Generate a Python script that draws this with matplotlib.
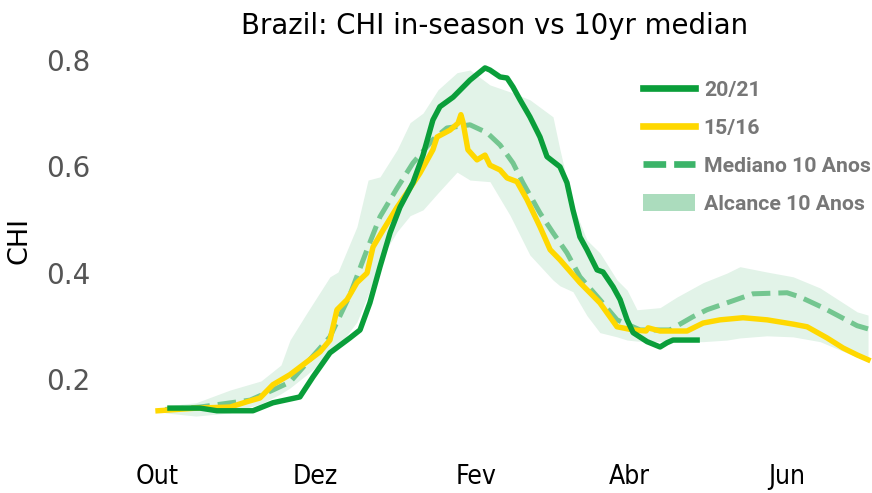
import matplotlib
matplotlib.use("Agg")
import matplotlib.pyplot as plt
from matplotlib.lines import Line2D
from matplotlib.patches import Patch

# ---- data (x = days since 1 Oct) ----
month_ticks = [0, 61, 123, 182, 243]
month_labels = ["Out", "Dez", "Fev", "Abr", "Jun"]

days_2021 = [5.0, 16.6, 23.1, 37.0, 44.7, 55.1, 60.2, 66.7, 74.4, 78.3, 82.1, 86.0, 89.9,
             93.7, 98.7, 102.6, 106.4, 109.1, 114.2, 120.7, 126.5, 128.4, 132.3, 135.0,
             137.3, 140.0, 143.8, 147.7, 150.4, 155.4, 158.1, 160.4, 163.1, 165.8, 169.7,
             172.0, 175.9, 178.6, 181.3, 183.6, 189.0, 194.0, 196.7, 199.0, 208.3]
chi_2021 = [0.145, 0.145, 0.140, 0.140, 0.155, 0.166, 0.204, 0.249, 0.277, 0.292, 0.343, 0.411,
            0.475, 0.523, 0.569, 0.621, 0.687, 0.712, 0.730, 0.762, 0.785, 0.781, 0.768, 0.766,
            0.749, 0.725, 0.693, 0.655, 0.618, 0.599, 0.569, 0.518, 0.467, 0.443, 0.405,
            0.401, 0.373, 0.349, 0.311, 0.287, 0.270, 0.260, 0.268, 0.273, 0.273]

days_1516 = [0.4, 15.4, 28.2, 34.7, 39.7, 44.7, 51.3, 57.8, 62.9, 66.7, 69.4, 73.3, 77.1,
             81.0, 83.3, 87.2, 92.6, 96.4, 101.4, 106.4, 108.0, 113.0, 116.1, 117.2, 118.0,
             119.9, 123.4, 126.5, 128.4, 132.3, 135.0, 138.8, 142.7, 147.7, 151.6, 155.4,
             163.1, 170.8, 177.4, 183.6, 188.6, 189.4, 194.0, 204.4, 210.6, 217.1, 226.0,
             235.3, 245.3, 250.7, 258.4, 264.6, 270.0, 274.2]
chi_1516 = [0.140, 0.145, 0.147, 0.157, 0.164, 0.189, 0.208, 0.232, 0.251, 0.273, 0.330, 0.349,
            0.381, 0.399, 0.448, 0.480, 0.523, 0.550, 0.587, 0.631, 0.655, 0.668, 0.681, 0.697,
            0.683, 0.631, 0.612, 0.621, 0.602, 0.593, 0.578, 0.571, 0.537, 0.486, 0.443, 0.424,
            0.381, 0.343, 0.298, 0.292, 0.290, 0.296, 0.290, 0.290, 0.305, 0.311, 0.315,
            0.311, 0.303, 0.298, 0.277, 0.258, 0.245, 0.236]

days_med = [3.1, 16.6, 35.9, 44.7, 51.3, 66.7, 74.4, 81.0, 86.0, 92.6, 98.7, 106.4, 111.8,
            120.7, 127.3, 132.3, 137.3, 141.1, 147.7, 152.7, 158.1, 163.1, 170.8, 177.4,
            186.3, 197.8, 206.7, 212.1, 219.8, 229.8, 243.0, 248.0, 256.8, 270.0, 274.2]
chi_med = [0.142, 0.147, 0.160, 0.179, 0.194, 0.279, 0.358, 0.443, 0.505, 0.559, 0.606, 0.650,
           0.672, 0.678, 0.663, 0.640, 0.606, 0.569, 0.512, 0.475, 0.437, 0.392, 0.349, 0.311,
           0.292, 0.292, 0.317, 0.330, 0.343, 0.360, 0.362, 0.354, 0.334, 0.300, 0.294]

days_rng = [3.1, 15.0, 28.2, 40.1, 47.8, 51.3, 57.8, 66.7, 69.8, 77.1, 81.4, 86.0, 92.6, 97.6,
            102.6, 108.4, 115.7, 120.7, 128.4, 136.1, 143.8, 152.7, 155.4, 160.4, 165.8,
            170.8, 177.4, 181.3, 185.1, 194.0, 200.5, 210.6, 219.8, 224.8, 235.2, 245.3,
            255.7, 270.0, 274.2]
rng_hi = [0.149, 0.155, 0.179, 0.196, 0.226, 0.273, 0.324, 0.392, 0.401, 0.486, 0.574, 0.580,
          0.631, 0.682, 0.700, 0.744, 0.776, 0.781, 0.753, 0.740, 0.725, 0.693, 0.631, 0.527,
          0.461, 0.437, 0.386, 0.367, 0.330, 0.334, 0.354, 0.381, 0.399, 0.411, 0.401, 0.392,
          0.371, 0.326, 0.320]
rng_lo = [0.136, 0.130, 0.136, 0.153, 0.172, 0.183, 0.208, 0.245, 0.260, 0.307, 0.358, 0.424,
          0.477, 0.507, 0.518, 0.550, 0.589, 0.574, 0.571, 0.508, 0.433, 0.386, 0.375, 0.364,
          0.319, 0.287, 0.279, 0.273, 0.271, 0.270, 0.270, 0.270, 0.273, 0.277, 0.281, 0.279,
          0.270, 0.241, 0.236]

# ---- style ----
GREEN = "#0a9e3a"
YELLOW = "#ffd800"
MED = "#74c690"
BAND = "#e2f3e8"
BAND_LEG = "#abdcbd"

fig = plt.figure(figsize=(8.72, 4.93), dpi=100)
ax = fig.add_axes([0.1503, 0.1237, 0.8505, 0.7763])

ax.fill_between(days_rng, rng_lo, rng_hi, color=BAND, lw=0, zorder=1)
ax.plot(days_med, chi_med, color=MED, lw=3.6, ls="--", zorder=2)
ax.plot(days_1516, chi_1516, color=YELLOW, lw=3.9, zorder=3)
ax.plot(days_2021, chi_2021, color=GREEN, lw=3.9, zorder=4)

ax.set_xlim(-10, 276)
ax.set_ylim(0.1, 0.82)
ax.set_xticks(month_ticks)
ax.set_xticklabels(month_labels, family="DejaVu Sans", stretch="condensed",
                   fontsize=19, color="black")
ax.set_yticks([0.2, 0.4, 0.6, 0.8])
ax.set_yticklabels(["0.2", "0.4", "0.6", "0.8"], fontsize=20, color="#555555")
ax.tick_params(axis="x", length=0, pad=23)
ax.tick_params(axis="y", length=0, pad=29.5)
for s in ax.spines.values():
    s.set_visible(False)

ax.set_ylabel("CHI", fontsize=19.5, color="black")
ax.yaxis.set_label_coords(-0.1335, 0.5)
ax.set_title("Brazil: CHI in-season vs 10yr median", fontsize=19.8, color="black",
             pad=11, x=0.4907)

handles = [
    Line2D([], [], color=GREEN, lw=4.8),
    Line2D([], [], color=YELLOW, lw=4.8),
    Line2D([], [], color="#3cb469", lw=4.8, ls=(0, (3.4, 1.2))),
    Patch(facecolor=BAND_LEG, edgecolor="none"),
]
labels = ["20/21", "15/16", "Mediano 10 Anos", "Alcance 10 Anos"]
leg = ax.legend(handles, labels, loc="upper left", bbox_to_anchor=(0.69, 0.921),
                frameon=False, handlelength=2.45, handleheight=0.9, handletextpad=0.42,
                labelspacing=0.84, borderaxespad=0, borderpad=0,
                prop={"family": "Roboto", "weight": "bold", "size": 15.3})
for t in leg.get_texts():
    t.set_color("#777777")

fig.savefig("out.png", dpi=100)
